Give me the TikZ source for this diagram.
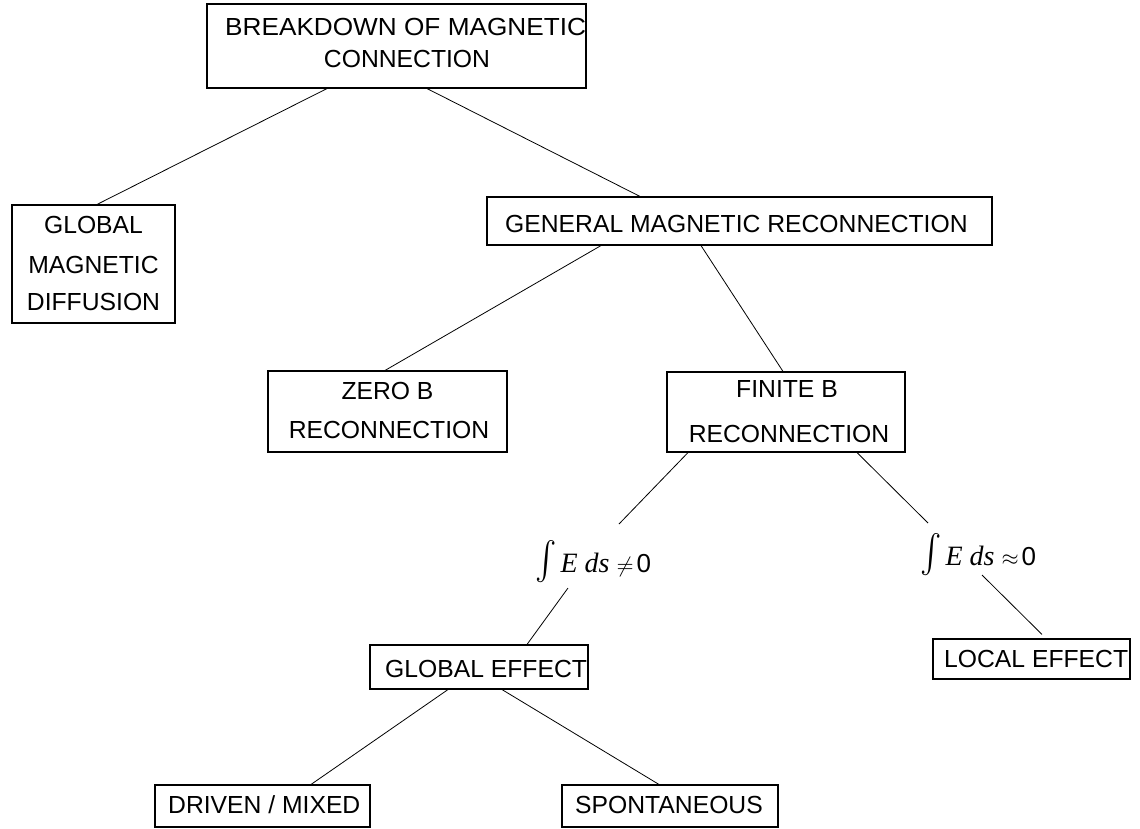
\documentclass[tikz,border=0pt]{standalone}
\usepackage{fontspec}
\setmainfont{Liberation Sans}
\newfontfamily\tnr{Liberation Serif}
\usetikzlibrary{calc}
\tikzset{
  box/.style={draw, line width=1.1pt, inner sep=0pt, fill=none},
  lbl/.style={inner sep=0pt, font=\fontsize{24.7}{24.7}\selectfont},
  conn/.style={line width=0.8pt},
  formula/.style={inner sep=0pt, anchor=base west}
}
\newcommand{\integ}[1]{\raisebox{1pt}{\scalebox{3.2}[3.8]{$\int$}}\hspace{4pt}{\tnr\itshape\fontsize{28}{28}\selectfont E\hspace{7pt}ds}\hspace{7pt}\scalebox{2.2}{$#1$}\hspace{3pt}{\fontsize{26}{26}\selectfont 0}}
\begin{document}
\begin{tikzpicture}[x=1pt,y=-1pt]
\useasboundingbox (0,0) rectangle (1140,828);
% boxes
\node[box, minimum width=379, minimum height=84] (top) at (396.5,46) {};
\node[box, minimum width=163, minimum height=118] (gmd) at (93.5,264) {};
\node[box, minimum width=505, minimum height=48] (gen) at (739.5,221) {};
\node[box, minimum width=239, minimum height=81] (zero) at (387.5,411.5) {};
\node[box, minimum width=238, minimum height=80] (fin) at (786,412) {};
\node[box, minimum width=218, minimum height=44] (geff) at (479,667) {};
\node[box, minimum width=197, minimum height=40] (loc) at (1031.5,659) {};
\node[box, minimum width=215, minimum height=42] (drv) at (262.5,806) {};
\node[box, minimum width=216, minimum height=42] (spo) at (670,806) {};
% texts
\node[lbl, anchor=base west, xscale=1.06] (t1) at (225,35) {BREAKDOWN OF MAGNETIC};
\node[lbl, anchor=base] (t2) at (407,67) {CONNECTION};
\node[lbl, anchor=base] (g1) at (93.5,233) {GLOBAL};
\node[lbl, anchor=base] (g2) at (93.5,273) {MAGNETIC};
\node[lbl, anchor=base] (g3) at (93.5,310) {DIFFUSION};
\node[lbl, anchor=base west] (gt) at (505,232) {GENERAL MAGNETIC RECONNECTION};
\node[lbl, anchor=base] (z1) at (387.5,399) {ZERO B};
\node[lbl, anchor=base] (z2) at (389,438) {RECONNECTION};
\node[lbl, anchor=base] (f1t) at (787,397) {FINITE B};
\node[lbl, anchor=base] (f2t) at (789,442) {RECONNECTION};
\node[lbl, anchor=base west] (get) at (385,677) {GLOBAL EFFECT};
\node[lbl, anchor=base west] (lt) at (944,667) {LOCAL EFFECT};
\node[lbl, anchor=base west] (dt) at (168,813) {DRIVEN / MIXED};
\node[lbl, anchor=base west] (st) at (575,813) {SPONTANEOUS};
% formulas
\node[formula] (fa) at (535,572) {\integ{\neq}};
\node[formula] (fb) at (920,565) {\integ{\approx}};
\coordinate (fatop) at (619,524);
\coordinate (fabot) at (568,588);
\coordinate (fbtop) at (928,523);
\coordinate (fbbot) at (982,575);
% connectors
\draw[conn] ($(top.south)+(-69.5,0)$) -- ($(gmd.north)+(3.5,0)$);
\draw[conn] ($(top.south)+(30.5,0)$) -- ($(gen.north)+(-99.5,0)$);
\draw[conn] ($(gen.south)+(-138.5,0)$) -- ($(zero.north)+(-2.5,0)$);
\draw[conn] ($(gen.south)+(-38.5,0)$) -- ($(fin.north)+(-3,0)$);
\draw[conn] ($(fin.south)+(-98,0)$) -- (fatop);
\draw[conn] ($(fin.south)+(71,0)$) -- (fbtop);
\draw[conn] (fabot) -- ($(geff.north)+(48,0)$);
\draw[conn] (fbbot) -- ($(loc.north)+(10.5,-4)$);
\draw[conn] ($(geff.south)+(-31,0)$) -- ($(drv.north)+(48.5,0)$);
\draw[conn] ($(geff.south)+(23,0)$) -- ($(spo.north)+(-11,0)$);
\end{tikzpicture}
\end{document}
